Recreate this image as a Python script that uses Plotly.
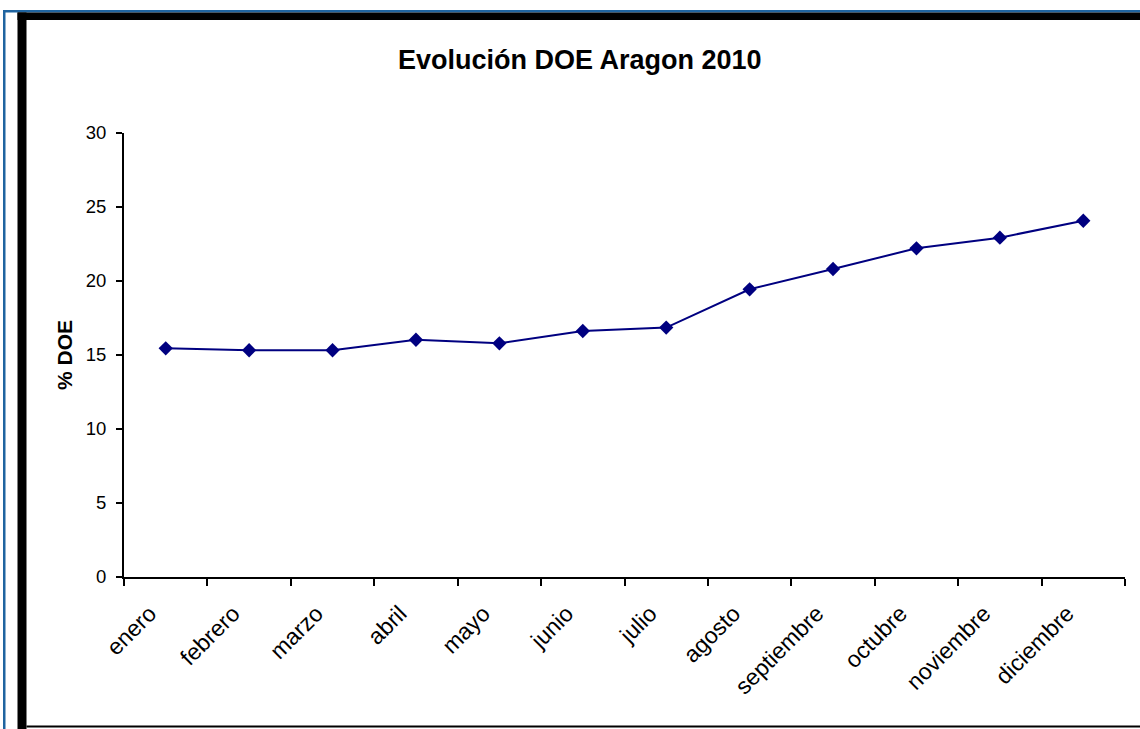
import plotly.graph_objects as go

months = ["enero", "febrero", "marzo", "abril", "mayo", "junio", "julio",
          "agosto", "septiembre", "octubre", "noviembre", "diciembre"]
doe = [15.45, 15.32, 15.32, 16.03, 15.79, 16.62, 16.85, 19.44, 20.81, 22.21, 22.93, 24.07]
y_ticks = [0, 5, 10, 15, 20, 25, 30]

W, H = 1140, 729
L, R, T, B = 124, 15, 133, 152
PW, PH = W - L - R, H - T - B

def px(x):
    return (x - L) / PW

def py(y):
    return (H - B - y) / PH

FONT = "Liberation Sans, Arial, sans-serif"

fig = go.Figure(go.Scatter(
    x=months, y=doe, mode="lines+markers",
    line=dict(color="#000080", width=2),
    marker=dict(symbol="diamond", size=11, color="#000080"),
    hoverinfo="skip", showlegend=False,
))

shapes = []
def rect(x0, y0, x1, y1, color):
    shapes.append(dict(type="rect", xref="paper", yref="paper",
                       x0=px(x0), x1=px(x1), y0=py(y1), y1=py(y0),
                       fillcolor=color, line=dict(width=0), layer="above"))

BLUE = "#1f64a0"
rect(3, 10, 1140, 12.5, BLUE)      # blue top rule
rect(3, 10, 5.5, 729, BLUE)         # blue left rule
rect(17.5, 12.5, 1140, 20, "#000000")  # black top frame
rect(17.5, 12.5, 26.5, 729, "#000000")  # black left frame
rect(26.5, 725.5, 1140, 727.5, "#000000")  # black bottom frame

fig.update_layout(
    width=W, height=H,
    margin=dict(l=L, r=R, t=T, b=B, pad=0),
    paper_bgcolor="white", plot_bgcolor="white",
    font=dict(family=FONT, size=18, color="black"),
    shapes=shapes,
    xaxis=dict(
        type="category", showgrid=False, zeroline=False,
        showline=True, linecolor="black", linewidth=2,
        ticks="outside", ticklen=7, tickcolor="black", tickwidth=2,
        tickson="boundaries", tickangle=-45,
        tickfont=dict(family=FONT, size=23, color="black"),
        ticklabelstandoff=12, ticklabelshift=-16,
        range=[-0.5, 11.5],
    ),
    yaxis=dict(
        range=[0, 30], tickvals=y_ticks, showgrid=False, zeroline=False,
        showline=True, linecolor="black", linewidth=2,
        ticks="outside", ticklen=6, tickcolor="black", tickwidth=2,
        tickfont=dict(family=FONT, size=18.5, color="black"),
        ticklabelstandoff=6,
    ),
    annotations=[
        dict(text="<b>Evolución DOE Aragon 2010</b>", xref="paper", yref="paper",
             x=px(580), y=py(60), xanchor="center", yanchor="middle",
             showarrow=False, font=dict(family=FONT, size=27, color="black")),
        dict(text="<b>% DOE</b>", xref="paper", yref="paper",
             x=px(64), y=py(355), xanchor="center", yanchor="middle",
             textangle=-90, showarrow=False,
             font=dict(family=FONT, size=21, color="black")),
    ],
)

fig.write_html("out.html")
